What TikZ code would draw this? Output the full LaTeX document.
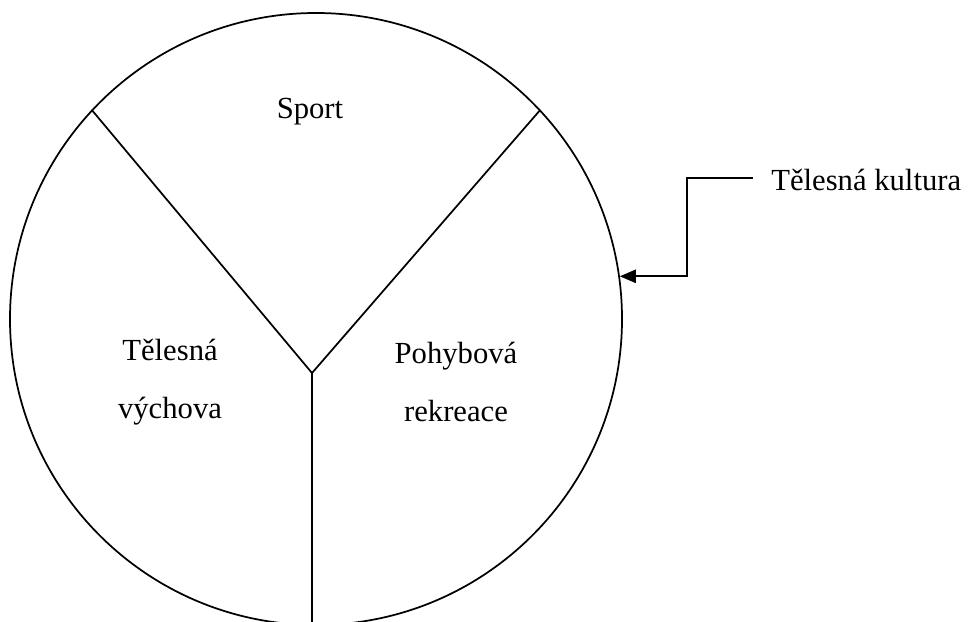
\documentclass[tikz,border=0pt]{standalone}
\usepackage{fontspec}
\setmainfont{Liberation Serif}
\usetikzlibrary{arrows.meta}
\begin{document}
\begin{tikzpicture}[x=0.75pt,y=-0.75pt,
  ln/.style={line width=1.3pt, black},
  lbl/.style={font=\fontsize{23}{43.5}\selectfont, align=center, inner sep=0pt}]
\useasboundingbox (0,0) rectangle (969,621);
\node[circle, draw, ln, minimum size=459pt, inner sep=0pt] (circ) at (316,319) {};
\coordinate (j) at (312,373);
\draw[ln] (j) -- (circ.137.1);
\draw[ln] (j) -- (circ.43.7);
\draw[ln] (j) -- (j |- circ.south);
\node[lbl] (sport) at (310,112) {Sport};
\node[lbl] (tv) at (170,382) {Tělesná\\výchova};
\node[lbl] (pr) at (456,382) {Pohybová\\rekreace};
\node[lbl, anchor=west] (kt) at (771,180) {Tělesná kultura};
\coordinate (bend) at (687,178);
\draw[ln, -{Triangle[length=12pt,width=10pt]}] (753,178) -- (bend) |- (circ.8);
\end{tikzpicture}
\end{document}
